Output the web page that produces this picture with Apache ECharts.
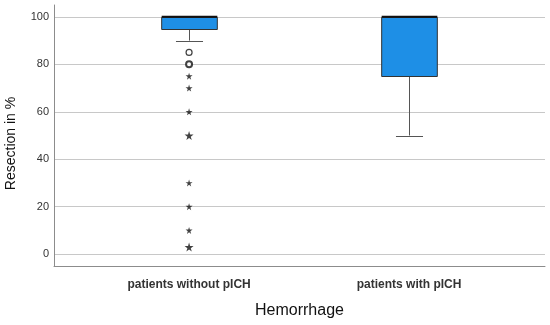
<!DOCTYPE html>
<html><head><meta charset="utf-8">
<script src="https://cdn.jsdelivr.net/npm/echarts@6/dist/echarts.min.js"></script>
<style>html,body{margin:0;padding:0;background:#fff}#c{width:550px;height:325px}</style>
</head><body><div id="c"></div>
<script>
// ---- data ----
const categories = ['patients without pICH', 'patients with pICH'];
const whiskerLow = [90, 50];
const q1 = [95, 75];
const median = [100, 100];
const q3 = [100, 100];
const whiskerHigh = [100, 100];
// outliers (all in group 0: patients without pICH)
const circleOutlierValues = [85, 80];
const circleOutlierCounts = [1, 2];
const starOutlierValues = [75, 70, 60, 50, 30, 20, 10, 3];
const starOutlierCounts = [1, 1, 1, 2, 1, 1, 1, 2];
const yTicks = [0, 20, 40, 60, 80, 100];

// ---- chart ----
const STAR = 'path://M50,0 L61,35 L98,35 L68,57 L79,91 L50,70 L21,91 L32,57 L2,35 L39,35 Z';
const boxData = categories.map((c, i) => [i, whiskerLow[i], q1[i], median[i], q3[i], whiskerHigh[i]]);

const chart = echarts.init(document.getElementById('c'), null, {renderer: 'canvas'});
chart.setOption({
  animation: false,
  backgroundColor: '#fff',
  grid: {left: 54, right: 5, top: 5, bottom: 59, containLabel: false, outerBoundsMode: 'none'},
  xAxis: {
    type: 'value', min: -0.614, max: 1.618,
    axisLine: {show: true, onZero: false, lineStyle: {color: '#8c8c8c', width: 1}},
    axisTick: {show: false, customValues: [0, 1]},
    splitLine: {show: false},
    axisLabel: {
      customValues: [0, 1],
      formatter: v => categories[Math.round(v)],
      fontFamily: 'Liberation Sans, Arial, sans-serif', fontSize: 12, fontWeight: 'bold', color: '#333', margin: 13
    },
    name: 'Hemorrhage', nameLocation: 'middle', nameGap: 37,
    nameTextStyle: {fontFamily: 'Liberation Sans, Arial, sans-serif', fontSize: 16, color: '#111'}
  },
  yAxis: {
    type: 'value', min: -5, max: 105,
    axisLine: {show: true, onZero: false, lineStyle: {color: '#8c8c8c', width: 1}},
    axisTick: {show: false, customValues: yTicks},
    splitLine: {show: true, lineStyle: {color: '#c8c8c8', width: 1}},
    axisLabel: {customValues: yTicks, fontFamily: 'Liberation Sans, Arial, sans-serif', fontSize: 11, color: '#333', margin: 5},
    name: 'Resection in %', nameLocation: 'middle', nameGap: 36,
    nameTextStyle: {fontFamily: 'Liberation Sans, Arial, sans-serif', fontSize: 14, color: '#111', padding: [0, 16, 0, 0]}
  },
  series: [
    {
      type: 'custom',
      data: boxData,
      renderItem: function (params, api) {
        const x = api.value(0);
        const pLow = api.coord([x, api.value(1)]);
        const pQ1 = api.coord([x, api.value(2)]);
        const pMed = api.coord([x, api.value(3)]);
        const pQ3 = api.coord([x, api.value(4)]);
        const pHigh = api.coord([x, api.value(5)]);
        const unit = api.size([1, 0])[0];
        const boxW = unit * 0.253;
        const capW = unit * 0.123;
        const cx = Math.round(pMed[0]) + 0.5;
        const ln = {stroke: '#555', lineWidth: 1};
        return {
          type: 'group',
          children: [
            {type: 'line', shape: {x1: cx, y1: pQ1[1], x2: cx, y2: pLow[1]}, style: ln},
            {type: 'line', shape: {x1: cx - capW / 2, y1: Math.round(pLow[1]) + 0.5, x2: cx + capW / 2, y2: Math.round(pLow[1]) + 0.5}, style: ln},
            {type: 'line', shape: {x1: cx, y1: pQ3[1], x2: cx, y2: pHigh[1]}, style: ln},
            {type: 'line', shape: {x1: cx - capW / 2, y1: Math.round(pHigh[1]) + 0.5, x2: cx + capW / 2, y2: Math.round(pHigh[1]) + 0.5}, style: ln},
            {type: 'rect', shape: {x: cx - boxW / 2, y: Math.round(pQ3[1]) + 0.5, width: boxW, height: Math.round(pQ1[1]) - Math.round(pQ3[1])},
              style: {fill: '#1e8fe6', stroke: '#333', lineWidth: 1}},
            {type: 'line', shape: {x1: cx - boxW / 2, y1: pMed[1], x2: cx + boxW / 2, y2: pMed[1]}, style: {stroke: '#111', lineWidth: 2}}
          ]
        };
      }
    },
    {
      type: 'scatter',
      symbol: 'circle',
      data: circleOutlierValues.map((v, i) => ({
        value: [0, v],
        symbolSize: 6,
        itemStyle: {color: '#fff', borderColor: '#111', borderWidth: circleOutlierCounts[i] > 1 ? 2 : 1.2}
      }))
    },
    {
      type: 'scatter',
      symbol: STAR,
      data: starOutlierValues.map((v, i) => ({
        value: [0, v],
        symbolSize: starOutlierCounts[i] > 1 ? 9 : 7,
        itemStyle: {color: '#111'}
      }))
    }
  ]
});
</script>
</body></html>
